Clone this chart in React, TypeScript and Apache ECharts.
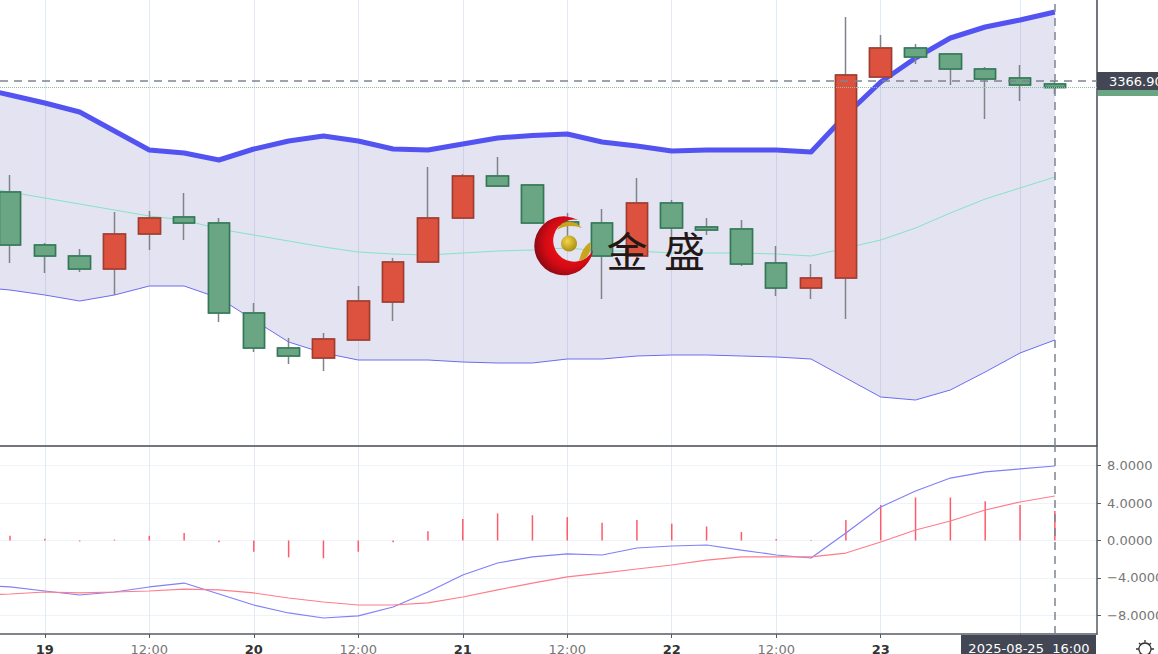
import React, { useEffect, useRef } from "react";
import * as echarts from "echarts";

const barIndex = [-1, 0, 1, 2, 3, 4, 5, 6, 7, 8, 9, 10, 11, 12, 13, 14, 15, 16, 17, 18, 19, 20, 21, 22, 23, 24, 25, 26, 27, 28, 29, 30];
const opens = [3344.7, 3334.1, 3331.9, 3329.3, 3336.3, 3339.7, 3338.5, 3320.5, 3313.5, 3311.5, 3315.1, 3322.7, 3330.7, 3339.5, 3347.9, 3346.1, 3338.7, 3338.5, 3331.9, 3342.5, 3337.7, 3337.3, 3330.5, 3325.5, 3327.5, 3367.7, 3373.5, 3372.3, 3369.3, 3367.5, 3366.3];
const closes = [3334.1, 3331.9, 3329.3, 3336.3, 3339.5, 3338.5, 3320.5, 3313.5, 3311.9, 3315.3, 3322.9, 3330.7, 3339.5, 3347.9, 3345.9, 3338.5, 3338.1, 3331.9, 3342.5, 3337.5, 3337.1, 3330.3, 3325.5, 3327.5, 3368.1, 3373.5, 3371.7, 3369.3, 3367.3, 3366.1, 3365.6];
const lows = [3330.5, 3328.5, 3328.7, 3324.1, 3333.1, 3335.1, 3318.7, 3312.7, 3310.3, 3308.9, 3315.1, 3318.9, 3330.5, 3339.5, 3345.7, 3338.5, 3335.1, 3323.3, 3331.9, 3335.1, 3336.1, 3329.9, 3323.9, 3323.3, 3319.3, 3367.7, 3370.3, 3366.1, 3359.3, 3362.9, 3364.3];
const highs = [3348.1, 3334.5, 3333.3, 3340.7, 3340.9, 3344.5, 3339.5, 3322.5, 3315.5, 3316.5, 3325.9, 3331.5, 3349.7, 3348.3, 3351.7, 3346.1, 3340.5, 3341.3, 3347.5, 3343.1, 3339.5, 3339.1, 3333.9, 3330.3, 3379.7, 3376.1, 3374.3, 3372.3, 3369.7, 3370.1, 3366.9];
const bollUpper = [3365.7, 3364.1, 3362.5, 3360.7, 3356.9, 3353.1, 3352.5, 3351.1, 3353.3, 3354.9, 3355.9, 3354.9, 3353.3, 3353.1, 3354.3, 3355.5, 3356.0, 3356.3, 3354.7, 3353.9, 3352.9, 3353.1, 3353.1, 3353.1, 3352.7, 3360.1, 3366.7, 3371.5, 3375.5, 3377.7, 3379.1, 3380.7];
const bollLower = [3325.7, 3325.1, 3324.1, 3322.9, 3324.1, 3325.9, 3325.9, 3323.5, 3319.1, 3314.7, 3312.5, 3311.1, 3311.1, 3311.1, 3310.7, 3310.5, 3310.5, 3311.3, 3311.3, 3311.9, 3312.1, 3312.1, 3311.9, 3311.7, 3311.3, 3307.5, 3303.7, 3303.1, 3305.1, 3308.7, 3312.5, 3315.1];
const bollMid = [3345.9, 3344.7, 3343.5, 3342.3, 3341.1, 3339.9, 3339.1, 3337.3, 3336.1, 3334.9, 3333.7, 3332.7, 3332.3, 3332.1, 3332.5, 3332.9, 3333.1, 3333.5, 3332.9, 3332.9, 3332.5, 3332.5, 3332.5, 3332.3, 3331.9, 3333.5, 3335.1, 3337.5, 3340.5, 3343.3, 3345.5, 3347.7];
const dif = [-4.76, -4.97, -5.4, -5.83, -5.51, -4.97, -4.55, -5.72, -6.9, -7.75, -8.29, -8.07, -7.11, -5.51, -3.69, -2.41, -1.76, -1.44, -1.55, -0.8, -0.59, -0.48, -1.02, -1.55, -1.87, 0.8, 3.58, 5.29, 6.68, 7.33, 7.65, 7.97];
const dea = [-5.83, -5.72, -5.51, -5.61, -5.51, -5.4, -5.19, -5.29, -5.61, -6.15, -6.58, -6.9, -6.9, -6.68, -6.04, -5.29, -4.55, -3.9, -3.48, -3.05, -2.62, -2.09, -1.76, -1.76, -1.76, -1.34, -0.16, 1.12, 2.09, 3.26, 4.12, 4.76];
const macdHist = [0.5, 0.2, -0.1, 0.1, 0.5, 0.8, -0.2, -1.2, -1.8, -1.9, -1.2, -0.2, 1.0, 2.3, 2.9, 2.7, 2.5, 1.9, 2.2, 1.8, 1.5, 0.9, 0.15, -0.05, 2.2, 3.8, 4.6, 4.6, 4.2, 3.8, 3.16];

const gridTicks = [1, 4, 7, 10, 13, 16, 19, 22, 25, 29];
const labelTicks = [1, 4, 7, 10, 13, 16, 19, 22, 25];
const tickLabels = ["19", "12:00", "20", "12:00", "21", "12:00", "22", "12:00", "23"];
const macdTicks = [-8, -4, 0, 4, 8];
const crosshairPrice = 3366.9;
const crosshairIndex = 30;
const lastClose = 3365.7;
const crosshairTime = "2025-08-25  16:00";

const FONT = '"DejaVu Sans", "Noto Sans", sans-serif';
const UP = "#dc523e";
const DOWN = "#6aa584";
const CROSS = { color: "#7c8590", type: [8, 6], width: 1.5 };

echarts.graphic.registerShape(
  "crescent",
  echarts.graphic.extendPath("M578 220 A29.5 29.5 0 1 0 593 250 A21 21 0 1 1 578 220 Z", {})
);
echarts.graphic.registerShape(
  "leafA",
  echarts.graphic.extendPath("M557 230 C562 220 574 219 582 228 C574 225 564 225 557 230 Z", {})
);
echarts.graphic.registerShape(
  "leafB",
  echarts.graphic.extendPath("M590.5 242 C592 252 587 260 579 261 C581 253 584 246 590.5 242 Z", {})
);
echarts.graphic.registerShape(
  "gear",
  echarts.graphic.extendPath(
    "M1145 643 A6 6 0 1 1 1144.9 643 Z M1145 640 L1145 643 M1145 655 L1145 658 M1136 649 L1139 649 M1151 649 L1154 649 M1139 643 L1141 645 M1149 653 L1151 655 M1151 643 L1149 645 M1141 653 L1139 655",
    {}
  )
);

export default function App() {
  const ref = useRef<HTMLDivElement>(null);

  useEffect(() => {
    document.body.style.margin = "0";
    document.body.style.overflow = "hidden";
    const chart = echarts.init(ref.current!, undefined, { renderer: "svg" });
    const pair = (arr: number[]) => arr.map((v, i) => [barIndex[i], v]);
    const candles = opens.map((o, i) => [i, o, closes[i], lows[i], highs[i]]);
    const bodies = opens.map((o, i) => [i, o, closes[i], Math.min(o, closes[i]), Math.max(o, closes[i])]);
    const xCommon = {
      type: "value",
      min: -0.287,
      max: 31.21,
      splitLine: { show: true, lineStyle: { color: "#e2eaf3", width: 1 } },
      axisTick: { show: false, customValues: gridTicks },
    };

    chart.setOption({
      animation: false,
      backgroundColor: "#ffffff",
      textStyle: { fontFamily: FONT },
      grid: [
        { left: 0, width: 1097, top: 0, height: 446, outerBoundsMode: "none" },
        { left: 0, width: 1097, top: 447, height: 187, outerBoundsMode: "none" },
      ],
      xAxis: [
        {
          ...xCommon,
          gridIndex: 0,
          axisLine: { show: true, onZero: false, lineStyle: { color: "#444a52", width: 1.5 } },
          axisLabel: { show: false },
        },
        {
          ...xCommon,
          gridIndex: 1,
          axisLine: { show: true, onZero: false, lineStyle: { color: "#555b63", width: 1.5 } },
          axisTick: { show: true, length: 4, customValues: gridTicks, lineStyle: { color: "#555b63" } },
          axisLabel: {
            show: true,
            customValues: labelTicks,
            margin: 9,
            fontFamily: FONT,
            fontSize: 13,
            color: "#777",
            formatter: (v: number) => {
              const t = tickLabels[labelTicks.indexOf(Math.round(v))] ?? "";
              return t.includes(":") ? t : `{b|${t}}`;
            },
            rich: { b: { fontWeight: "bold", fontSize: 13, color: "#333", fontFamily: FONT } },
          },
        },
      ],
      yAxis: [
        {
          type: "value",
          gridIndex: 0,
          position: "right",
          min: 3293.9,
          max: 3383.1,
          scale: true,
          splitLine: { show: false },
          axisLine: { show: true, onZero: false, lineStyle: { color: "#444a52", width: 1.5 } },
          axisTick: { show: false },
          axisLabel: { show: false },
        },
        {
          type: "value",
          gridIndex: 1,
          position: "right",
          min: -10,
          max: 10,
          splitLine: { show: true, lineStyle: { color: "#edf3f9", width: 1 } },
          axisLine: { show: true, onZero: false, lineStyle: { color: "#555b63", width: 1.5 } },
          axisTick: { show: true, length: 4, customValues: macdTicks, lineStyle: { color: "#555b63" } },
          axisLabel: {
            show: true,
            customValues: macdTicks,
            margin: 10,
            fontFamily: FONT,
            fontSize: 13,
            color: "#777",
            formatter: (v: number) => v.toFixed(4).replace("-", "\u2212"),
          },
        },
      ],
      series: [
        {
          name: "BOLL band",
          type: "custom",
          coordinateSystem: "cartesian2d",
          data: pair(bollUpper),
          encode: { x: 0, y: 1 },
          silent: true,
          clip: true,
          z: 1,
          renderItem: (params: any, api: any) => {
            if (params.dataIndex !== 0) return null;
            const top = barIndex.map((x, i) => api.coord([x, bollUpper[i]]));
            const bottom = barIndex.map((x, i) => api.coord([x, bollLower[i]])).reverse();
            return {
              type: "polygon",
              shape: { points: [...top, ...bottom] },
              style: { fill: "rgba(90,90,170,0.17)" },
            };
          },
        },
        { name: "MID", type: "line", data: pair(bollMid), symbol: "none", lineStyle: { color: "#85e3c6", width: 1 }, z: 2 },
        { name: "LOWER", type: "line", data: pair(bollLower), symbol: "none", lineStyle: { color: "#6c6cf0", width: 1 }, z: 2 },
        { name: "UPPER", type: "line", data: pair(bollUpper), symbol: "none", lineStyle: { color: "#5353f2", width: 5, join: "round" }, z: 2 },
        {
          name: "K",
          type: "candlestick",
          data: candles,
          barWidth: 22,
          z: 3,
          itemStyle: { color: "#808488", color0: "#808488", borderColor: "#808488", borderColor0: "#808488", borderWidth: 1.5 },
          markLine: {
            symbol: "none",
            silent: true,
            animation: false,
            z: 6,
            data: [
              {
                yAxis: crosshairPrice,
                lineStyle: CROSS,
                label: {
                  show: true,
                  position: "end",
                  distance: 0,
                  formatter: crosshairPrice.toFixed(2),
                  color: "#ffffff",
                  fontFamily: FONT,
                  fontSize: 13,
                  fontWeight: 500,
                  backgroundColor: "#434753",
                  padding: [3, 10, 2, 12],
                },
              },
              {
                yAxis: lastClose,
                lineStyle: { color: "#8dbda2", type: "dotted", width: 1 },
                label: { show: false },
              },
              {
                xAxis: crosshairIndex,
                lineStyle: CROSS,
                label: { show: false },
              },
            ],
          },
        },
        {
          name: "body",
          type: "candlestick",
          data: bodies,
          barWidth: 22,
          z: 4,
          itemStyle: { color: UP, color0: DOWN, borderColor: "#a33a2c", borderColor0: "#2f7a55", borderWidth: 1.5 },
        },
        {
          name: "MACD",
          type: "bar",
          xAxisIndex: 1,
          yAxisIndex: 1,
          data: macdHist.map((v, i) => [i, v]),
          barWidth: 1.5,
          itemStyle: { color: "#ff5a6a" },
          z: 2,
          markLine: {
            symbol: "none",
            silent: true,
            animation: false,
            data: [{ xAxis: crosshairIndex, lineStyle: CROSS, label: { show: false } }],
          },
        },
        { name: "DIF", type: "line", xAxisIndex: 1, yAxisIndex: 1, data: pair(dif), symbol: "none", lineStyle: { color: "#8080f8", width: 1.2 }, z: 3 },
        { name: "DEA", type: "line", xAxisIndex: 1, yAxisIndex: 1, data: pair(dea), symbol: "none", lineStyle: { color: "#ff7c8a", width: 1.2 }, z: 3 },
      ],
      graphic: [
        { type: "rect", z: 90, shape: { x: 1098, y: 90, width: 60, height: 6 }, style: { fill: "#6aa584" } },
        { type: "rect", z: 90, shape: { x: 961, y: 635, width: 135, height: 19 }, style: { fill: "#434753" } },
        {
          type: "text",
          z: 91,
          x: 1029,
          y: 648,
          style: { text: crosshairTime, fill: "#ffffff", font: `500 13px ${FONT}`, align: "center", verticalAlign: "middle" },
        },
        { type: "gear", z: 91, x: 0, y: 0, style: { fill: "none", stroke: "#333", lineWidth: 1.3 } },
        {
          type: "crescent",
          z: 100,
          x: 0,
          y: 0,
          style: {
            fill: {
              type: "radial",
              x: 0.6,
              y: 0.45,
              r: 0.6,
              colorStops: [
                { offset: 0, color: "#ff1a1a" },
                { offset: 0.7, color: "#d40a14" },
                { offset: 1, color: "#8e0a14" },
              ],
            },
          },
        },
        { type: "leafA", z: 101, x: 0, y: 0, style: { fill: "#c9a51e" } },
        { type: "leafB", z: 101, x: 0, y: 0, style: { fill: "#c9a51e" } },
        {
          type: "circle",
          z: 101,
          shape: { cx: 569, cy: 243.5, r: 8 },
          style: {
            fill: {
              type: "radial",
              x: 0.4,
              y: 0.35,
              r: 0.7,
              colorStops: [
                { offset: 0, color: "#f2d54a" },
                { offset: 1, color: "#a88a10" },
              ],
            },
          },
        },
        {
          type: "text",
          z: 102,
          x: 627,
          y: 249,
          style: { text: "金", fill: "#231815", font: '400 41px "Noto Sans CJK SC"', align: "center", verticalAlign: "middle" },
        },
        {
          type: "text",
          z: 102,
          x: 684.5,
          y: 249,
          style: { text: "盛", fill: "#231815", font: '400 41px "Noto Sans CJK SC"', align: "center", verticalAlign: "middle" },
        },
      ],
    });
    return () => chart.dispose();
  }, []);

  return <div ref={ref} style={{ position: "absolute", left: 0, top: 0, width: 1158, height: 654 }} />;
}
